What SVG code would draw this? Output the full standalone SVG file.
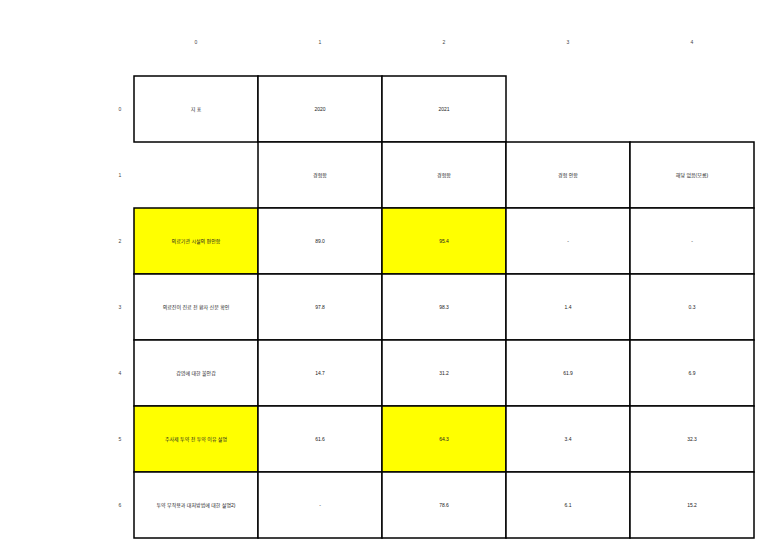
<svg xmlns="http://www.w3.org/2000/svg" width="764" height="548" viewBox="0 0 764 548">
<style>
.c{stroke:#000;stroke-width:1.5;fill:#fff}
.y{fill:#ffff00}
text{font-family:"Liberation Sans","Noto Sans CJK KR",sans-serif;font-size:5px;fill:#222;text-anchor:middle;dominant-baseline:middle}
.i{fill:#444}
</style>
<rect width="764" height="548" fill="#fff"/>
<g id="col-index">
<text class="i" x="196" y="42.5">0</text>
<text class="i" x="320" y="42.5">1</text>
<text class="i" x="444" y="42.5">2</text>
<text class="i" x="568" y="42.5">3</text>
<text class="i" x="692" y="42.5">4</text>
</g>
<g id="row-index">
<text class="i" x="120" y="109.5">0</text>
<text class="i" x="120" y="175.5">1</text>
<text class="i" x="120" y="241.5">2</text>
<text class="i" x="120" y="307.5">3</text>
<text class="i" x="120" y="373.5">4</text>
<text class="i" x="120" y="439.5">5</text>
<text class="i" x="120" y="505.5">6</text>
</g>
<g id="row0">
<rect class="c" x="134" y="76" width="124" height="66"/><text x="196" y="109.5">지 표</text>
<rect class="c" x="258" y="76" width="124" height="66"/><text x="320" y="109.5">2020</text>
<rect class="c" x="382" y="76" width="124" height="66"/><text x="444" y="109.5">2021</text>
</g>
<g id="row1">
<rect class="c" x="258" y="142" width="124" height="66"/><text x="320" y="175.5">경험함</text>
<rect class="c" x="382" y="142" width="124" height="66"/><text x="444" y="175.5">경험함</text>
<rect class="c" x="506" y="142" width="124" height="66"/><text x="568" y="175.5">경험 안함</text>
<rect class="c" x="630" y="142" width="124" height="66"/><text x="692" y="175.5">해당 없음(모름)</text>
</g>
<g id="row2">
<rect class="c y" x="134" y="208" width="124" height="66"/><text x="196" y="241.5">의료기관 시설의 편안함</text>
<rect class="c" x="258" y="208" width="124" height="66"/><text x="320" y="241.5">89.0</text>
<rect class="c y" x="382" y="208" width="124" height="66"/><text x="444" y="241.5">95.4</text>
<rect class="c" x="506" y="208" width="124" height="66"/><text x="568" y="241.5">-</text>
<rect class="c" x="630" y="208" width="124" height="66"/><text x="692" y="241.5">-</text>
</g>
<g id="row3">
<rect class="c" x="134" y="274" width="124" height="66"/><text x="196" y="307.5">의료진이 진료 전 환자 신분 확인</text>
<rect class="c" x="258" y="274" width="124" height="66"/><text x="320" y="307.5">97.8</text>
<rect class="c" x="382" y="274" width="124" height="66"/><text x="444" y="307.5">98.3</text>
<rect class="c" x="506" y="274" width="124" height="66"/><text x="568" y="307.5">1.4</text>
<rect class="c" x="630" y="274" width="124" height="66"/><text x="692" y="307.5">0.3</text>
</g>
<g id="row4">
<rect class="c" x="134" y="340" width="124" height="66"/><text x="196" y="373.5">감염에 대한 불안감</text>
<rect class="c" x="258" y="340" width="124" height="66"/><text x="320" y="373.5">14.7</text>
<rect class="c" x="382" y="340" width="124" height="66"/><text x="444" y="373.5">31.2</text>
<rect class="c" x="506" y="340" width="124" height="66"/><text x="568" y="373.5">61.9</text>
<rect class="c" x="630" y="340" width="124" height="66"/><text x="692" y="373.5">6.9</text>
</g>
<g id="row5">
<rect class="c y" x="134" y="406" width="124" height="66"/><text x="196" y="439.5">주사제 투약 전 투약 이유 설명</text>
<rect class="c" x="258" y="406" width="124" height="66"/><text x="320" y="439.5">61.6</text>
<rect class="c y" x="382" y="406" width="124" height="66"/><text x="444" y="439.5">64.3</text>
<rect class="c" x="506" y="406" width="124" height="66"/><text x="568" y="439.5">3.4</text>
<rect class="c" x="630" y="406" width="124" height="66"/><text x="692" y="439.5">32.3</text>
</g>
<g id="row6">
<rect class="c" x="134" y="472" width="124" height="66"/><text x="196" y="505.5">투약 부작용과 대처방법에 대한 설명2)</text>
<rect class="c" x="258" y="472" width="124" height="66"/><text x="320" y="505.5">-</text>
<rect class="c" x="382" y="472" width="124" height="66"/><text x="444" y="505.5">78.6</text>
<rect class="c" x="506" y="472" width="124" height="66"/><text x="568" y="505.5">6.1</text>
<rect class="c" x="630" y="472" width="124" height="66"/><text x="692" y="505.5">15.2</text>
</g>
<g id="connectors"/>
</svg>
